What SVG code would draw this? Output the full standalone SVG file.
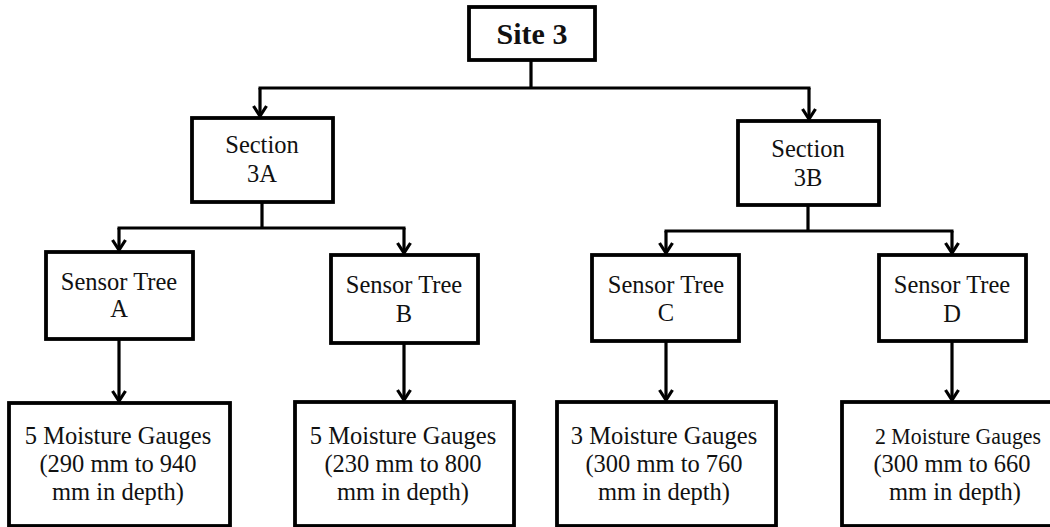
<svg xmlns="http://www.w3.org/2000/svg" width="1050" height="527" viewBox="0 0 1050 527">
<style>
.box{fill:#fff;stroke:#000;stroke-width:3.8}
.t{font-family:"Liberation Serif","Times New Roman",serif;font-size:24.5px;fill:#111;text-anchor:middle}
.tb{font-family:"Liberation Serif","Times New Roman",serif;font-size:30px;font-weight:bold;fill:#111;text-anchor:middle}
.c{fill:none;stroke:#000;stroke-width:3.2}
</style>
<defs>
<marker id="arr" markerUnits="userSpaceOnUse" markerWidth="20" markerHeight="20" viewBox="-12 -10 16 20" refX="0" refY="0" orient="auto" overflow="visible">
<path d="M-10,-6.5 L0,0 L-10,6.5" fill="none" stroke="#000" stroke-width="3.2"/>
</marker>
</defs>
<rect x="0" y="0" width="1050" height="527" fill="#fff"/>
<g id="connectors">
<path class="c" d="M531,60 V88 M258.5,88 H810.5 M262,202 V228 M117.5,228 H405.5 M808,205 V231 M664.5,231 H953.5"/>
<path class="c" d="M260,88 V116" marker-end="url(#arr)"/>
<path class="c" d="M809,88 V119" marker-end="url(#arr)"/>
<path class="c" d="M119,228 V250" marker-end="url(#arr)"/>
<path class="c" d="M404,228 V253" marker-end="url(#arr)"/>
<path class="c" d="M666,231 V253" marker-end="url(#arr)"/>
<path class="c" d="M952,231 V253" marker-end="url(#arr)"/>
<path class="c" d="M119,339 V401" marker-end="url(#arr)"/>
<path class="c" d="M404,343 V400" marker-end="url(#arr)"/>
<path class="c" d="M666,341 V400" marker-end="url(#arr)"/>
<path class="c" d="M952,341 V400" marker-end="url(#arr)"/>
</g>
<g id="site3">
<rect class="box" x="469" y="7" width="126" height="53"/>
<text class="tb" x="532" y="44">Site 3</text>
</g>
<g id="section3A">
<rect class="box" x="192" y="118" width="141" height="84"/>
<text class="t" x="262" y="153">Section</text>
<text class="t" x="262" y="182">3A</text>
</g>
<g id="section3B">
<rect class="box" x="738" y="121" width="141" height="84"/>
<text class="t" x="808" y="157">Section</text>
<text class="t" x="808" y="186">3B</text>
</g>
<g id="treeA">
<rect class="box" x="46" y="252" width="147" height="87"/>
<text class="t" x="119" y="290">Sensor Tree</text>
<text class="t" x="119" y="317">A</text>
</g>
<g id="treeB">
<rect class="box" x="331" y="255" width="147" height="88"/>
<text class="t" x="404" y="293">Sensor Tree</text>
<text class="t" x="404" y="322">B</text>
</g>
<g id="treeC">
<rect class="box" x="592" y="255" width="147" height="86"/>
<text class="t" x="666" y="293">Sensor Tree</text>
<text class="t" x="666" y="321">C</text>
</g>
<g id="treeD">
<rect class="box" x="879" y="255" width="147" height="86"/>
<text class="t" x="952" y="293">Sensor Tree</text>
<text class="t" x="952" y="322">D</text>
</g>
<g id="gaugesA">
<rect class="box" x="9" y="403" width="221" height="123"/>
<text class="t" x="118" y="444">5 Moisture Gauges</text>
<text class="t" x="118" y="472">(290 mm to 940</text>
<text class="t" x="118" y="500">mm in depth)</text>
</g>
<g id="gaugesB">
<rect class="box" x="295" y="402" width="219" height="124"/>
<text class="t" x="403" y="444">5 Moisture Gauges</text>
<text class="t" x="403" y="472">(230 mm to 800</text>
<text class="t" x="403" y="500">mm in depth)</text>
</g>
<g id="gaugesC">
<rect class="box" x="557" y="402" width="219" height="124"/>
<text class="t" x="664" y="444">3 Moisture Gauges</text>
<text class="t" x="664" y="472">(300 mm to 760</text>
<text class="t" x="664" y="500">mm in depth)</text>
</g>
<g id="gaugesD">
<rect class="box" x="842" y="402" width="222" height="124"/>
<text class="t" x="958" y="444" style="font-size:23px" textLength="166" lengthAdjust="spacingAndGlyphs">2 Moisture Gauges</text>
<text class="t" x="952" y="472">(300 mm to 660</text>
<text class="t" x="955" y="500">mm in depth)</text>
</g>
</svg>
